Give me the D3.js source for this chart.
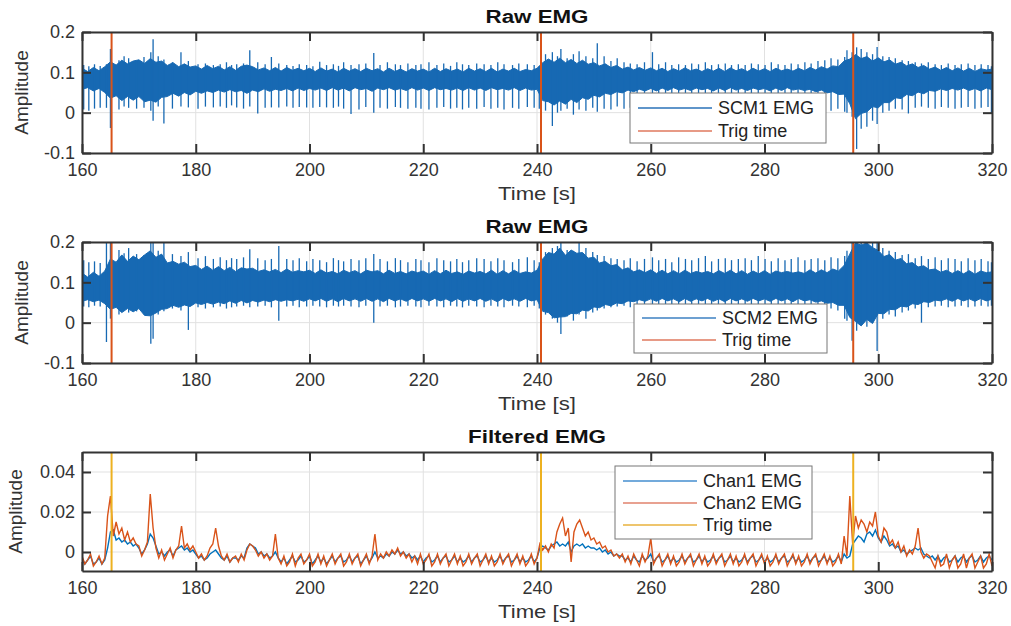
<!DOCTYPE html>
<html>
<head>
<meta charset="utf-8">
<script src="https://cdn.jsdelivr.net/npm/d3@7"></script>
<style>
  html, body { margin: 0; padding: 0; background: #fff; }
  svg { display: block; }
</style>
</head>
<body>
<svg id="chart" width="1011" height="626"></svg>
<script>
"use strict";

// ---- axis ticks ----
const timeTicks = [160, 180, 200, 220, 240, 260, 280, 300, 320];
const rawTicks = [-0.1, 0, 0.1, 0.2];
const rawTickLabels = ["-0.1", "0", "0.1", "0.2"];
const filtTicks = [0, 0.02, 0.04];
const filtTickLabels = ["0", "0.02", "0.04"];

// trigger instants [s]
const trigTimes = [165.2, 240.7, 295.6];

// ---- raw EMG : dense band, one value per second from 160 s (units of 0.001) ----
const scm1Hi = [
  110, 102, 112, 104, 114, 126, 118, 130, 121, 128,
  131, 122, 134, 125, 128, 117, 124, 114, 121, 113,
  116, 108, 117, 109, 115, 106, 114, 105, 115, 118,
  114, 106, 111, 104, 112, 103, 112, 105, 110, 104,
  110, 102, 111, 103, 108, 101, 110, 103, 109, 102,
  110, 104, 109, 101, 110, 102, 108, 101, 109, 103,
  108, 101, 110, 102, 109, 103, 108, 101, 110, 103,
  109, 102, 110, 101, 108, 103, 110, 102, 107, 104,
  110, 124, 133, 125, 135, 124, 132, 122, 130, 120,
  124, 116, 121, 112, 117, 108, 113, 106, 112, 105,
  111, 104, 110, 102, 109, 103, 111, 104, 108, 102,
  109, 103, 110, 102, 111, 104, 109, 102, 110, 103,
  109, 102, 110, 104, 108, 103, 110, 104, 112, 106,
  114, 108, 116, 114, 128, 133, 144, 134, 139, 128,
  136, 126, 131, 120, 125, 116, 121, 112, 117, 108,
  113, 105, 112, 104, 111, 103, 110, 102, 109, 106,
  108
];
const scm1Lo = [
  58, 62, 54, 60, 50, 36, 42, 30, 40, 31,
  40, 27, 31, 26, 38, 40, 48, 41, 50, 44,
  53, 48, 54, 50, 56, 51, 57, 52, 55, 48,
  56, 52, 59, 53, 58, 55, 60, 54, 61, 55,
  60, 56, 61, 55, 62, 56, 61, 54, 62, 57,
  60, 53, 61, 57, 62, 56, 60, 55, 62, 56,
  61, 55, 62, 57, 60, 56, 61, 55, 62, 56,
  61, 55, 62, 57, 60, 56, 62, 55, 61, 56,
  58, 30, 27, 19, 29, 21, 33, 25, 37, 33,
  43, 39, 48, 45, 52, 49, 56, 52, 58, 54,
  60, 54, 61, 55, 62, 56, 60, 55, 61, 57,
  60, 54, 61, 55, 62, 56, 60, 55, 61, 57,
  60, 54, 61, 55, 62, 56, 59, 55, 58, 52,
  56, 49, 52, 45, 46, 22, -15, -2, 2, 15,
  12, 25, 25, 37, 35, 45, 42, 51, 47, 55,
  53, 59, 55, 60, 56, 61, 55, 60, 54, 61,
  57
];
const scm2Hi = [
  123, 113, 125, 115, 128, 158, 150, 168, 152, 165,
  156, 168, 178, 162, 170, 148, 152, 145, 150, 139,
  142, 132, 140, 130, 139, 129, 137, 127, 136, 133,
  135, 127, 131, 126, 132, 124, 133, 125, 129, 126,
  130, 122, 131, 123, 127, 121, 130, 124, 129, 121,
  130, 126, 129, 121, 130, 122, 127, 121, 128, 124,
  128, 120, 129, 121, 130, 122, 126, 120, 128, 123,
  127, 121, 130, 120, 129, 121, 130, 122, 126, 123,
  130, 158, 174, 170, 185, 167, 180, 172, 174, 160,
  162, 148, 152, 141, 144, 131, 136, 126, 131, 124,
  131, 122, 130, 121, 129, 121, 130, 122, 127, 123,
  127, 121, 129, 122, 130, 121, 129, 120, 128, 121,
  129, 120, 128, 124, 127, 123, 126, 122, 131, 123,
  131, 124, 133, 128, 142, 170, 198, 192, 198, 186,
  179, 164, 169, 155, 159, 146, 149, 138, 141, 131,
  133, 125, 130, 122, 129, 121, 129, 120, 128, 124,
  126
];
const scm2Lo = [
  53, 57, 52, 56, 47, 33, 38, 25, 35, 27,
  35, 18, 17, 24, 33, 35, 43, 38, 44, 40,
  49, 45, 50, 46, 51, 47, 54, 48, 55, 49,
  55, 51, 56, 52, 57, 53, 57, 54, 58, 53,
  59, 54, 60, 53, 59, 52, 60, 54, 59, 53,
  60, 53, 59, 52, 60, 54, 59, 53, 60, 54,
  59, 53, 60, 54, 59, 52, 60, 53, 59, 54,
  60, 53, 59, 52, 60, 54, 59, 53, 60, 54,
  57, 28, 25, 12, 14, 15, 23, 22, 31, 29,
  39, 37, 45, 42, 49, 47, 54, 52, 57, 53,
  59, 53, 60, 54, 59, 52, 60, 53, 59, 54,
  60, 53, 59, 52, 60, 54, 59, 53, 60, 54,
  59, 53, 60, 54, 59, 52, 60, 54, 57, 51,
  54, 48, 50, 43, 43, 13, 3, -8, 8, -2,
  23, 22, 33, 32, 41, 39, 47, 45, 52, 50,
  56, 54, 59, 53, 60, 54, 59, 53, 60, 54,
  58
];

// ---- heartbeat artefact spikes seen in the raw EMG ----
const beatTimes = [
  160.3, 161.2, 162.2, 163.2, 164.3, 165.0, 166.5, 167.4, 168.2, 169.6,
  170.9, 172.1, 172.5, 173.4, 174.4, 175.9, 177.4, 178.7, 180.4, 181.7,
  183.1, 184.3, 185.4, 186.3, 187.2, 188.4, 189.5, 190.9, 192.2, 193.3,
  194.6, 196.0, 197.1, 198.2, 199.5, 200.6, 201.8, 203.0, 204.2, 205.1,
  206.0, 207.3, 208.7, 209.9, 211.3, 212.4, 213.7, 215.1, 216.0, 217.3,
  218.7, 219.6, 221.0, 222.4, 223.6, 224.8, 225.9, 226.9, 228.0, 229.4,
  230.7, 231.9, 233.1, 234.2, 235.7, 236.8, 238.3, 239.5, 240.4, 241.5,
  242.7, 243.6, 244.2, 245.3, 246.4, 247.4, 248.6, 249.8, 250.6, 251.8,
  253.0, 254.1, 255.3, 256.4, 257.6, 258.9, 260.3, 261.4, 262.6, 263.7,
  264.9, 266.1, 267.2, 268.4, 269.6, 270.7, 271.9, 273.1, 274.2, 275.4,
  276.6, 277.7, 278.9, 280.1, 281.2, 282.4, 283.6, 284.7, 285.9, 287.1,
  288.2, 289.4, 290.6, 291.7, 292.9, 294.1, 294.5, 295.4, 296.2, 297.0,
  298.0, 299.0, 299.8, 300.8, 301.9, 303.0, 304.2, 305.3, 306.5, 307.6,
  308.8, 310.0, 311.1, 312.3, 313.5, 314.6, 315.8, 317.0, 318.1, 319.3,
  319.9
];
const scm1Up = [
  118, 115, 120, 116, 120, 158, 130, 140, 135, 128,
  138, 150, 182, 140, 132, 125, 150, 128, 120, 122,
  118, 120, 125, 118, 120, 122, 155, 125, 120, 138,
  122, 118, 116, 120, 118, 115, 126, 118, 120, 116,
  125, 118, 120, 122, 148, 118, 125, 120, 118, 122,
  118, 120, 125, 118, 122, 116, 125, 120, 118, 122,
  120, 118, 125, 120, 118, 122, 120, 118, 115, 145,
  150, 140, 158, 135, 145, 152, 140, 135, 172, 140,
  128, 135, 125, 122, 120, 125, 150, 120, 125, 118,
  120, 118, 122, 120, 125, 118, 120, 122, 118, 120,
  118, 122, 120, 118, 125, 120, 118, 122, 120, 125,
  122, 128, 130, 135, 132, 138, 155, 150, 162, 158,
  150, 145, 163, 140, 138, 135, 130, 128, 125, 122,
  125, 120, 118, 122, 118, 120, 122, 118, 120, 118,
  115
];
const scm1Dn = [
  8, 5, 10, 12, 12, -38, 8, 15, 12, 10,
  12, 5, -20, 15, -27, 10, 15, 13, 10, 15,
  13, 15, 12, 18, 13, 10, 15, -2, 12, 13,
  13, 15, 12, 14, 13, 12, 14, 13, 12, 15,
  10, -3, 8, 14, 0, 12, 10, 14, 12, 10,
  12, 10, 8, 12, 14, 10, 12, 8, 12, 10,
  14, 10, 12, 8, 12, 10, 14, 12, 10, 5,
  -33, 0, 5, 10, -5, 8, 5, 12, 2, 10,
  8, 15, 10, 12, 14, 10, 12, 14, 10, 12,
  14, 12, 10, 14, 12, 10, 13, 12, 14, 10,
  12, 14, 10, 12, 0, 14, 12, 10, 12, 14,
  10, 12, 8, 5, 10, 2, 0, -10, -90, -40,
  -35, -20, -28, 0, 5, 10, 8, -2, 12, 15,
  12, 10, 14, 12, 10, 12, 14, 10, 12, 14,
  0
];
const scm2Up = [
  155, 150, 152, 148, 200, 205, 180, 172, 185, 170,
  168, 205, 205, 178, 205, 170, 165, 175, 160, 165,
  158, 162, 155, 160, 158, 162, 182, 160, 155, 158,
  190, 158, 155, 160, 152, 158, 155, 150, 160, 155,
  152, 158, 155, 160, 170, 158, 152, 160, 155, 150,
  158, 155, 150, 160, 155, 152, 158, 150, 155, 160,
  158, 152, 160, 155, 150, 158, 162, 155, 150, 175,
  185, 190, 205, 180, 178, 205, 185, 175, 168, 165,
  160, 158, 155, 160, 152, 158, 162, 155, 158, 150,
  162, 158, 155, 160, 165, 152, 158, 160, 155, 158,
  160, 155, 165, 158, 152, 160, 155, 158, 162, 155,
  158, 160, 155, 162, 160, 165, 178, 205, 205, 205,
  205, 205, 205, 185, 178, 175, 168, 170, 160, 165,
  158, 162, 155, 160, 158, 152, 160, 155, 158, 152,
  150
];
const scm2Dn = [
  40, 38, 42, 40, -48, 10, 20, 30, 25, 28,
  25, -52, -40, 20, 28, 35, 30, -18, 38, 35,
  38, 40, 35, 38, 40, 42, 38, 40, 42, 38,
  5, 40, 42, 38, 40, 42, 40, 38, 42, 40,
  42, 40, 38, 42, 0, 40, 42, 38, 40, 42,
  40, 38, 42, 40, 38, 42, 40, 38, 42, 40,
  38, 42, 40, 38, 42, 40, 38, 42, 35, 20,
  10, 0, -28, 15, 5, 20, 10, 25, 30, 35,
  38, 40, 42, 38, 40, 42, 40, 38, 42, 40,
  38, 42, 40, 38, 42, 40, 38, 42, 40, 38,
  42, 40, 38, 42, 40, 38, 42, 40, 38, 42,
  40, 38, 42, 35, 30, 10, 5, -45, -20, 0,
  -10, 0, -70, 10, 20, 15, 25, 30, 35, 0,
  38, 40, 42, 38, 40, 42, 38, 40, 42, 40,
  42
];

// ---- filtered EMG, one value every 0.5 s from 160 s (units of 0.001) ----
const chan1 = [
  -3, -6, -4, -2, -6, -5, -3, -6, -4, 2,
  10, 11, 6, 7, 5, 6, 4, 5, 3, 4,
  2, -1, 1, 4, 9, 7, 3, -1, 0, -2,
  0, 1, -2, 1, 2, 3, 1, 2, 0, 1,
  -1, -3, -2, -4, -3, -1, 0, 1, -1, -3,
  -4, -2, -5, -3, -3, -4, -2, -3, 2, 4,
  3, 2, -1, 0, -2, -1, -3, -2, 0, -3,
  -5, -3, -6, -4, -2, -5, -4, -2, -5, -4,
  -2, -6, -4, -2, -5, -3, -6, -4, -2, -5,
  -3, -2, -5, -4, -2, -5, -3, -2, -6, -4,
  -2, -5, -3, 0, -3, -2, -3, -1, -2, 0,
  -1, 1, -1, 0, -2, -1, -3, -2, -4, -2,
  -5, -3, -2, -5, -4, -2, -5, -3, -2, -5,
  -4, -2, -5, -3, -5, -4, -2, -5, -3, -2,
  -5, -4, -2, -5, -3, -5, -4, -2, -5, -3,
  -2, -5, -4, -2, -5, -3, -5, -4, -2, -5,
  -3, 2, 3, 2, 1, 3, 4, 5, 3, 4,
  3, 5, 0, 3, 4, 3, 4, 2, 3, 2,
  2, 1, 2, 0, 1, -1, 0, -2, -1, -2,
  -2, -4, -3, -5, -2, -4, -5, -2, -4, -3,
  -1, -5, -3, -2, -5, -4, -2, -5, -3, -5,
  -4, -2, -5, -3, -2, -5, -4, -2, -5, -3,
  -5, -4, -2, -5, -3, -2, -5, -4, -2, -5,
  -3, -5, -4, -2, -5, -3, -2, -5, -4, -2,
  -5, -3, -5, -4, -2, -5, -3, -2, -5, -4,
  -2, -5, -3, -5, -4, -2, -5, -3, -2, -5,
  -4, -2, -5, -3, -5, -4, -2, -5, -1, -3,
  -2, 4, 6, 8, 7, 5, 9, 10, 8, 11,
  7, 5, 8, 6, 3, 4, 2, 3, 0, 1,
  -1, 0, 1, 2, 1, 2, -1, -2, -3, -2,
  -4, -2, -5, -3, -2, -5, -4, -2, -5, -3,
  -2, -5, -3, -2, -5, -4, -2, -5, -3, -2,
  -4
];
const chan2 = [
  -2, -6, -4, -1, -7, -5, -2, -6, -3, 18,
  28, 8, 15, 9, 12, 6, 10, 5, 7, 4,
  3, -2, 1, 5, 29, 12, 2, -3, 1, -4,
  -1, 2, -3, 1, 3, 13, 2, 4, 1, 3,
  0, -3, -1, -4, -2, 2, 4, 12, 3, -2,
  -4, -1, -5, -3, -2, -5, -1, -4, 1, 4,
  3, 1, -2, 0, -3, -1, -4, -2, 9, -3,
  -6, -2, -7, -5, -1, -7, -3, -1, -6, -4,
  -1, -7, -5, -1, -6, -2, -7, -4, -1, -6,
  -3, -1, -7, -5, -1, -6, -3, -1, -7, -4,
  -1, -6, -2, 9, -4, -1, -3, 0, -2, 1,
  -1, 2, -2, 0, -3, -1, -5, -2, -6, -1,
  -6, -4, -1, -7, -5, -1, -6, -3, -1, -7,
  -4, -1, -6, -2, -7, -5, -1, -6, -3, -1,
  -7, -4, -1, -6, -2, -7, -5, -1, -6, -3,
  -1, -7, -4, -1, -6, -2, -7, -5, -1, -6,
  -3, 4, 1, 3, 0, 4, 2, 10, 14, 17,
  8, 12, -5, 10, 14, 16, 12, 8, 10, 6,
  7, 4, 5, 2, 3, 0, 1, -2, -1, -3,
  -1, -5, -2, -6, -1, -4, -7, -1, -5, -2,
  7, -6, -3, -1, -7, -4, -1, -6, -2, -7,
  -5, -1, -6, -3, -1, -7, -4, -1, -6, -2,
  -7, -5, -1, -6, -3, -1, -7, -4, -1, -6,
  -2, -7, -5, -1, -6, -3, -1, -7, -4, -1,
  -6, -2, -7, -5, -1, -6, -3, -1, -7, -4,
  -1, -6, -2, -7, -5, -1, -6, -3, -1, -7,
  -4, -1, -6, -2, -7, -5, -1, -6, 8, -2,
  28, 4, 18, 12, 16, 14, 10, 15, 13, 20,
  8, 5, 12, 10, 4, 6, 2, 5, 0, 3,
  -2, 1, -1, 3, 12, 0, -3, -1, -2, -5,
  -8, -2, -7, -6, -1, -8, -4, -2, -8, -6,
  -1, -8, -3, -1, -8, -5, -2, -8, -6, -1,
  -7
];

// ---- look ----
const FONT = "'Liberation Sans', Arial, Helvetica, sans-serif";
const AX = "#333333";
const GRID = "#e1e1e1";
const BLUE = "#1769b3";
const RED = "#d95319";
const YELLOW = "#edb120";
const m = (v) => v / 1000; // stored values are in thousandths

const svg = d3.select("#chart");
const left = 82, right = 992;
const x = d3.scaleLinear().domain([160, 320]).range([left, right]);

// 한 개의 subplot 틀(격자, 축, 제목, 라벨)을 만들고 y 스케일을 돌려준다
function makePanel(id, top, bottom, yDomain, yTicks, yLabels, title, titleLen, yLabelX) {
  const y = d3.scaleLinear().domain(yDomain).range([bottom, top]);
  const g = svg.append("g");

  svg.append("clipPath").attr("id", id)
    .append("rect")
    .attr("x", left).attr("y", top)
    .attr("width", right - left).attr("height", bottom - top);

  // grid
  g.append("g").selectAll("line").data(timeTicks).join("line")
    .attr("x1", (d) => x(d)).attr("x2", (d) => x(d))
    .attr("y1", top).attr("y2", bottom)
    .attr("stroke", GRID).attr("stroke-width", 1);
  g.append("g").selectAll("line").data(yTicks).join("line")
    .attr("x1", left).attr("x2", right)
    .attr("y1", (d) => y(d)).attr("y2", (d) => y(d))
    .attr("stroke", GRID).attr("stroke-width", 1);

  const plot = g.append("g").attr("clip-path", `url(#${id})`);
  const frame = svg.append("g"); // drawn later, above data

  // title
  svg.append("text")
    .attr("x", (left + right) / 2).attr("y", top - 9)
    .attr("text-anchor", "middle")
    .attr("font-family", FONT).attr("font-weight", "bold")
    .attr("font-size", 18).attr("fill", "#111")
    .attr("textLength", titleLen).attr("lengthAdjust", "spacingAndGlyphs")
    .text(title);

  // x label
  svg.append("text")
    .attr("x", (left + right) / 2).attr("y", bottom + 47)
    .attr("text-anchor", "middle")
    .attr("font-family", FONT).attr("font-size", 19).attr("fill", AX)
    .attr("textLength", 78).attr("lengthAdjust", "spacingAndGlyphs")
    .text("Time [s]");

  // y label
  svg.append("text")
    .attr("transform", `translate(${yLabelX},${(top + bottom) / 2}) rotate(-90)`)
    .attr("text-anchor", "middle")
    .attr("font-family", FONT).attr("font-size", 19).attr("fill", AX)
    .text("Amplitude");

  return { y, top, bottom, plot, frame, yTicks, yLabels };
}

// 박스형 축 (눈금은 안쪽으로, 네 변 모두)
function drawAxes(p) {
  const tick = -9;
  const axes = [
    [d3.axisBottom(x).tickValues(timeTicks).tickFormat(d3.format("d")), `translate(0,${p.bottom})`, 10],
    [d3.axisTop(x).tickValues(timeTicks).tickFormat(() => ""), `translate(0,${p.top})`, 0],
    [d3.axisLeft(p.y).tickValues(p.yTicks).tickFormat((d, i) => p.yLabels[i]), `translate(${left},0)`, 7],
    [d3.axisRight(p.y).tickValues(p.yTicks).tickFormat(() => ""), `translate(${right},0)`, 0],
  ];
  axes.forEach(([axis, tr, pad]) => {
    const a = p.frame.append("g").attr("transform", tr)
      .call(axis.tickSizeInner(tick).tickSizeOuter(0).tickPadding(pad));
    a.attr("font-family", FONT).attr("font-size", 18);
    a.select(".domain").attr("stroke", AX).attr("stroke-width", 2);
    a.selectAll(".tick line").attr("stroke", AX).attr("stroke-width", 2);
    a.selectAll(".tick text").attr("fill", AX);
  });
}

function drawTrig(p, color) {
  p.plot.append("g").selectAll("line").data(trigTimes).join("line")
    .attr("x1", (d) => x(d)).attr("x2", (d) => x(d))
    .attr("y1", p.top).attr("y2", p.bottom)
    .attr("stroke", color).attr("stroke-width", 2);
}

function drawRaw(p, hi, lo, up, dn) {
  const band = hi.map((h, i) => ({ t: 160 + i, hi: h, lo: lo[i] }));
  const area = d3.area()
    .x((d) => x(d.t))
    .y0((d) => p.y(m(d.lo)))
    .y1((d) => p.y(m(d.hi)));
  p.plot.append("path").datum(band)
    .attr("d", area)
    .attr("fill", BLUE).attr("stroke", BLUE).attr("stroke-width", 1);

  const spikes = beatTimes.map((t, i) => ({ t, up: up[i], dn: dn[i] }));
  p.plot.append("g").selectAll("line").data(spikes).join("line")
    .attr("x1", (d) => x(d.t)).attr("x2", (d) => x(d.t))
    .attr("y1", (d) => p.y(m(d.dn))).attr("y2", (d) => p.y(m(d.up)))
    .attr("stroke", BLUE).attr("stroke-width", 1.3);
}

function drawLegend(box, items) {
  const g = svg.append("g");
  g.append("rect")
    .attr("x", box.x).attr("y", box.y).attr("width", box.w).attr("height", box.h)
    .attr("fill", "#fff").attr("stroke", "#777").attr("stroke-width", 1);
  items.forEach((it, i) => {
    const yy = box.y + box.first + i * box.step;
    g.append("line")
      .attr("x1", box.x + 8).attr("x2", box.x + 82)
      .attr("y1", yy).attr("y2", yy)
      .attr("stroke", it.color).attr("stroke-width", it.width);
    g.append("text")
      .attr("x", box.x + 88).attr("y", yy).attr("dy", "0.35em")
      .attr("font-family", FONT).attr("font-size", 18).attr("fill", "#222")
      .text(it.label);
  });
}

// ---- panel 1 ----
const p1 = makePanel("clip1", 32, 153, [-0.1, 0.2], rawTicks, rawTickLabels, "Raw EMG", 103, 28);
drawRaw(p1, scm1Hi, scm1Lo, scm1Up, scm1Dn);
drawTrig(p1, RED);
drawAxes(p1);
drawLegend({ x: 630, y: 93, w: 196, h: 50, first: 15, step: 23 }, [
  { label: "SCM1 EMG", color: "#2a72b8", width: 1.4 },
  { label: "Trig time", color: "#e79a86", width: 2 },
]);

// ---- panel 2 ----
const p2 = makePanel("clip2", 242, 363, [-0.1, 0.2], rawTicks, rawTickLabels, "Raw EMG", 103, 28);
drawRaw(p2, scm2Hi, scm2Lo, scm2Up, scm2Dn);
drawTrig(p2, RED);
drawAxes(p2);
drawLegend({ x: 634, y: 304, w: 193, h: 49, first: 14, step: 22 }, [
  { label: "SCM2 EMG", color: "#3d80c2", width: 1.4 },
  { label: "Trig time", color: "#e79a86", width: 2 },
]);

// ---- panel 3 ----
const p3 = makePanel("clip3", 452, 571, [-0.0095, 0.05], filtTicks, filtTickLabels, "Filtered EMG", 138, 22);
const line = d3.line()
  .x((d, i) => x(160 + i * 0.5))
  .y((d) => p3.y(m(d)));
p3.plot.append("path").datum(chan1).attr("d", line)
  .attr("fill", "none").attr("stroke", "#0072bd").attr("stroke-width", 1.4);
p3.plot.append("path").datum(chan2).attr("d", line)
  .attr("fill", "none").attr("stroke", RED).attr("stroke-width", 1.4);
drawTrig(p3, YELLOW);
drawAxes(p3);
drawLegend({ x: 615, y: 466, w: 197, h: 73, first: 15, step: 22 }, [
  { label: "Chan1 EMG", color: "#73aadb", width: 2 },
  { label: "Chan2 EMG", color: "#e0826c", width: 1.5 },
  { label: "Trig time", color: "#e9b23c", width: 1.3 },
]);
</script>
</body>
</html>
